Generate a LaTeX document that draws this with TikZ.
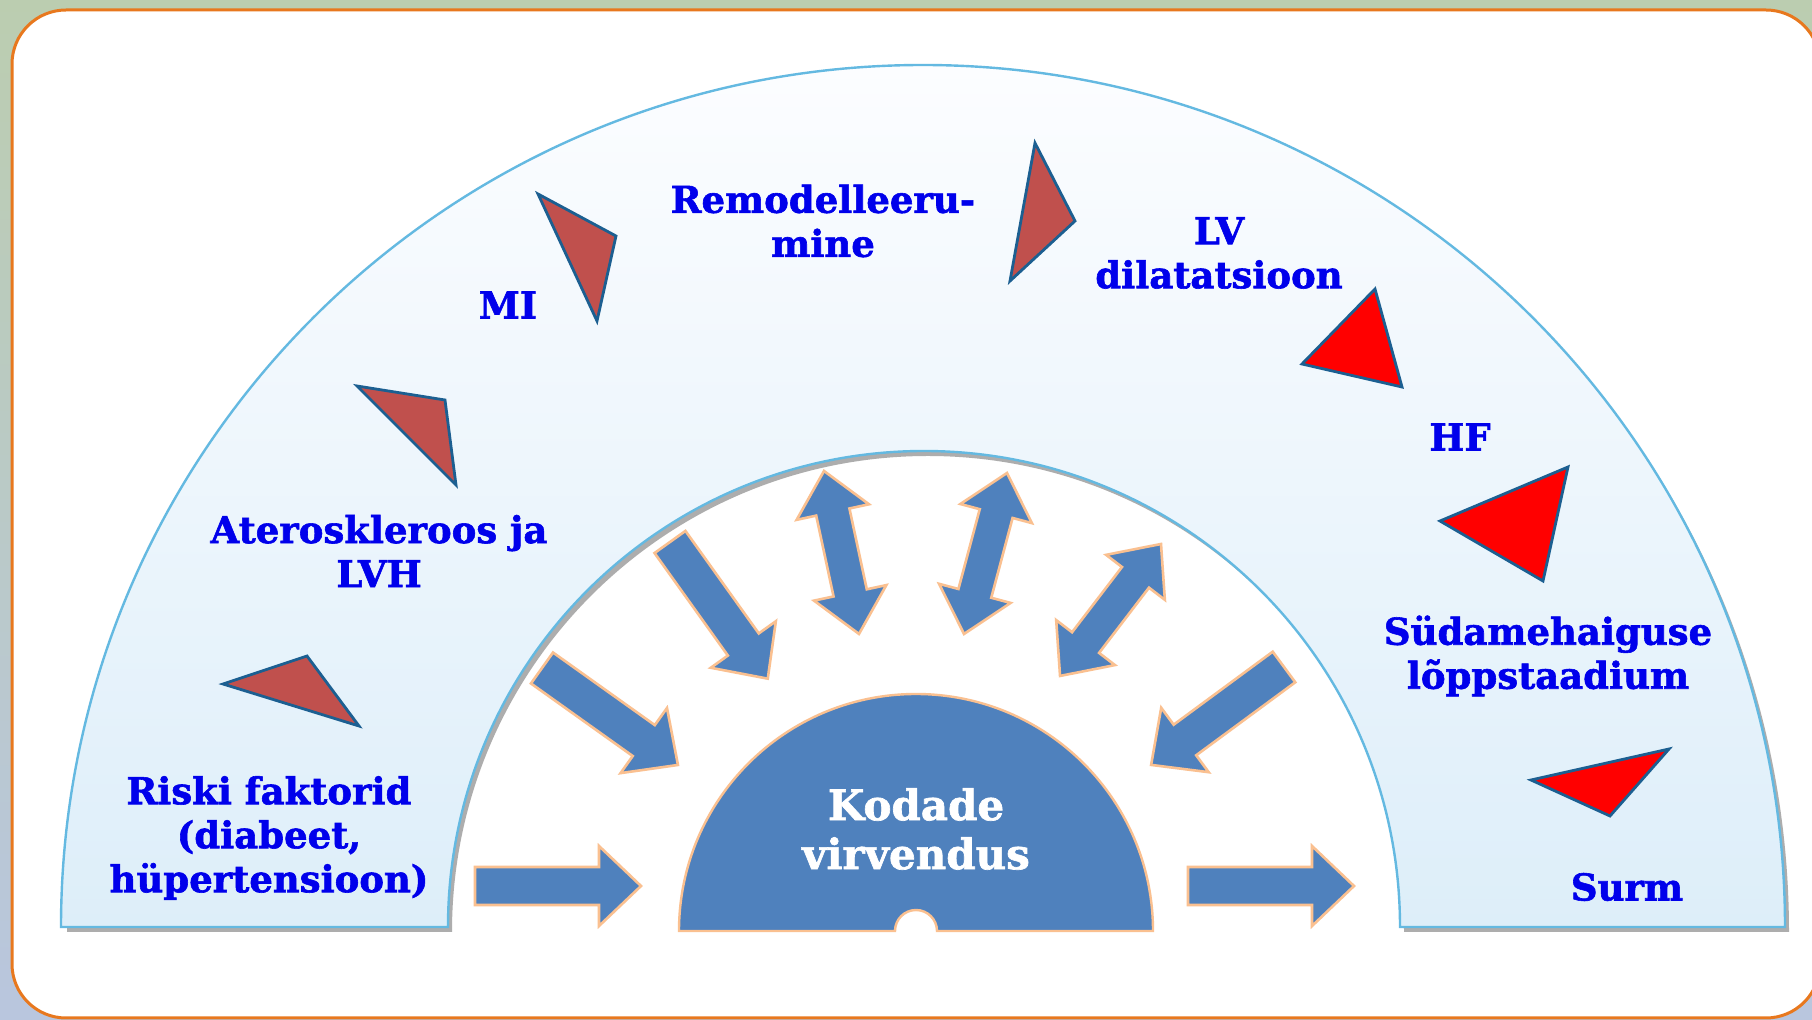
\documentclass[tikz,border=0pt]{standalone}
\usepackage{fontspec}
\setmainfont{DejaVu Serif}[BoldFeatures={FakeBold=1.6}]
\usetikzlibrary{calc}
\definecolor{bluetext}{RGB}{0,0,235}
\definecolor{arrowfill}{RGB}{79,129,189}
\definecolor{arrowline}{RGB}{250,192,144}
\definecolor{brick}{RGB}{192,80,77}
\definecolor{tridraw}{RGB}{28,95,145}
\definecolor{ringline}{RGB}{100,185,225}
\definecolor{ringtop}{RGB}{252,253,255}
\definecolor{ringbot}{RGB}{221,238,249}
\definecolor{frameline}{RGB}{232,120,30}
\definecolor{bgtop}{RGB}{187,205,176}
\definecolor{bgbot}{RGB}{185,198,222}
\tikzset{
  lbl/.style={text=bluetext, font=\bfseries\fontsize{18.5}{22}\selectfont, align=center, inner sep=0pt},
  arrowshape/.style={fill=arrowfill, draw=arrowline, line width=1.3pt, line join=miter},
  tribrick/.style={fill=brick, draw=tridraw, line width=1.4pt, line join=miter},
  trired/.style={fill=red, draw=tridraw, line width=1.4pt, line join=miter},
}
\newcommand{\singlearrow}[2]{%
  \filldraw[arrowshape] let \p1=(#1), \p2=(#2), \n1={atan2(\y2-\y1,\x2-\x1)}, \n2={veclen(\x2-\x1,\y2-\y1)} in
  [shift={(\p1)}, rotate=\n1] (0pt,9.5pt) -- ({\n2*1pt-21pt},9.5pt) -- ({\n2*1pt-21pt},20pt) -- ({\n2*1pt},0pt)
  -- ({\n2*1pt-21pt},-20pt) -- ({\n2*1pt-21pt},-9.5pt) -- (0pt,-9.5pt) -- cycle;}
\newcommand{\doublearrow}[2]{%
  \filldraw[arrowshape] let \p1=(#1), \p2=(#2), \n1={atan2(\y2-\y1,\x2-\x1)}, \n2={veclen(\x2-\x1,\y2-\y1)} in
  [shift={(\p1)}, rotate=\n1] (0pt,0pt) -- (21pt,18.5pt) -- (21pt,8.5pt) -- ({\n2*1pt-21pt},8.5pt) -- ({\n2*1pt-21pt},18.5pt)
  -- ({\n2*1pt},0pt) -- ({\n2*1pt-21pt},-18.5pt) -- ({\n2*1pt-21pt},-8.5pt) -- (21pt,-8.5pt) -- (21pt,-18.5pt) -- cycle;}
\begin{document}
\begin{tikzpicture}[x=0.5pt,y=-0.5pt]
\useasboundingbox (0,0) rectangle (1812,1020);
% background
\shade[top color=bgtop, bottom color=bgbot] (0,0) rectangle (1812,1020);
\filldraw[fill=white, draw=frameline, line width=1.5pt, rounded corners=27pt] (12,10) rectangle (1820,1018);
% ring shadow
\fill[black!40, opacity=0.8] (67,932) arc[start angle=180, end angle=360, radius=861] -- (1404,932)
  arc[start angle=360, end angle=180, radius=476] -- cycle;
% ring
\shade[top color=ringtop, bottom color=ringbot] (61,927) arc[start angle=180, end angle=360, radius=862] -- (1400,927)
  arc[start angle=360, end angle=180, radius=476] -- cycle;
\draw[ringline, line width=1.2pt] (61,927) arc[start angle=180, end angle=360, radius=862] -- (1400,927)
  arc[start angle=360, end angle=180, radius=476] -- cycle;
% central half disk
\filldraw[fill=arrowfill, draw=arrowline, line width=1.2pt] (679,931) arc[start angle=180, end angle=360, radius=237]
  -- (937,931) arc[start angle=360, end angle=180, radius=21] -- cycle;
\node[text=white, font=\bfseries\fontsize{21}{24.5}\selectfont, align=center, inner sep=0pt] (kv) at (916,829) {Kodade\\virvendus};
% arrow end points
\coordinate (a1) at (475,886); \coordinate (a2) at (641,886);
\coordinate (b1) at (1188,886); \coordinate (b2) at (1354,886);
\coordinate (c1) at (542,668); \coordinate (c2) at (678,765);
\coordinate (d1) at (670,542); \coordinate (d2) at (768,679);
\coordinate (e1) at (824,471); \coordinate (e2) at (859,634);
\coordinate (f1) at (1007,473); \coordinate (f2) at (964,634);
\coordinate (g1) at (1161,544); \coordinate (g2) at (1060,676);
\coordinate (h1) at (1284,667); \coordinate (h2) at (1151,765);
\singlearrow{a1}{a2}
\singlearrow{b1}{b2}
\singlearrow{c1}{c2}
\singlearrow{d1}{d2}
\doublearrow{e1}{e2}
\doublearrow{f1}{f2}
\doublearrow{g1}{g2}
\singlearrow{h1}{h2}
% triangles
\draw[tribrick] (223,684) -- (307,656) -- (359,726) -- cycle;
\draw[tribrick] (357,386) -- (445,400) -- (456,485) -- cycle;
\draw[tribrick] (538,194) -- (616,236) -- (597,321) -- cycle;
\draw[tribrick] (1035,143) -- (1075,221) -- (1010,281) -- cycle;
\draw[trired] (1375,289) -- (1402,387) -- (1302,364) -- cycle;
\draw[trired] (1568,467) -- (1543,581) -- (1440,521) -- cycle;
\draw[trired] (1669,749) -- (1610,816) -- (1531,780) -- cycle;
% labels
\node[lbl] (rf) at (269,838) {Riski faktorid\\(diabeet,\\hüpertensioon)};
\node[lbl] (at) at (379,551) {Ateroskleroos ja\\LVH};
\node[lbl] (mi) at (508,305) {MI};
\node[lbl] (rm) at (823,221) {Remodelleeru-\\mine};
\node[lbl] (lv) at (1219,253) {LV\\dilatatsioon};
\node[lbl] (hf) at (1460,437) {HF};
\node[lbl] (sh) at (1548,656) {Südamehaiguse\\lõppstaadium};
\node[lbl] (su) at (1627,887) {Surm};
\end{tikzpicture}
\end{document}
